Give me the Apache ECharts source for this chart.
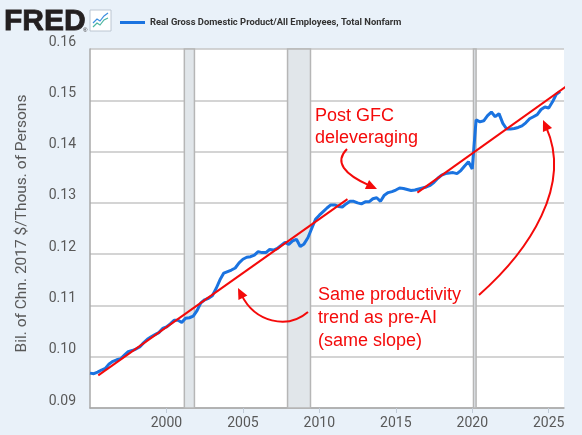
<!DOCTYPE html>
<html>
<head>
<meta charset="utf-8">
<script src="https://cdn.jsdelivr.net/npm/echarts@6/dist/echarts.min.js"></script>
<style>
  html, body { margin: 0; padding: 0; background: #e9f1f9; }
  #chart { width: 582px; height: 435px; }
</style>
</head>
<body>
<div id="chart"></div>
<script>
// quarterly observations, first one is 1995 Q1
var startYear = 1995;
var gdpPerWorker = [
  0.0968, 0.0967, 0.0970, 0.0974, 0.0977, 0.0986, 0.0991, 0.0994,
  0.0996, 0.1003, 0.1010, 0.1012, 0.1015, 0.1019, 0.1027, 0.1034,
  0.1039, 0.1043, 0.1047, 0.1055, 0.1058, 0.1064, 0.1071, 0.1071,
  0.1067, 0.1075, 0.1076, 0.1079, 0.1090, 0.1105, 0.1111, 0.1114,
  0.1119, 0.1133, 0.1150, 0.1163, 0.1166, 0.1169, 0.1173, 0.1183,
  0.1190, 0.1194, 0.1195, 0.1198, 0.1205, 0.1203, 0.1203, 0.1209,
  0.1208, 0.1211, 0.1217, 0.1223, 0.1219, 0.1226, 0.1229, 0.1215,
  0.1220, 0.1232, 0.1250, 0.1268, 0.1276, 0.1283, 0.1290, 0.1296,
  0.1296, 0.1293, 0.1292, 0.1298, 0.1303, 0.1303, 0.1300, 0.1298,
  0.1302, 0.1302, 0.1308, 0.1310, 0.1303, 0.1315, 0.1320, 0.1322,
  0.1325, 0.1329, 0.1328, 0.1326, 0.1324, 0.1325, 0.1327, 0.1329,
  0.1331, 0.1334, 0.1340, 0.1348, 0.1354, 0.1357, 0.1358, 0.1359,
  0.1357, 0.1363, 0.1372, 0.1380, 0.1366, 0.1462, 0.1458, 0.1460,
  0.1470, 0.1477, 0.1468, 0.1474, 0.1455, 0.1444, 0.1444, 0.1445,
  0.1447, 0.1450, 0.1456, 0.1464, 0.1468, 0.1472, 0.1482, 0.1487,
  0.1485, 0.1497, 0.1512, 0.1517
];

// hand drawn trend lines [year, value]
var trendPreGfc = [[1995.54, 0.09635], [2011.84, 0.13074]];
var trendPostGfc = [[2016.41, 0.1320], [2027.5, 0.15561]];

// NBER recessions [start, end] in years
var recessions = [[2001.17, 2001.83], [2007.92, 2009.42], [2020.08, 2020.25]];

var yTicks = { min: 0.09, max: 0.16 };
var xTicks = { min: 1995, max: 2026, step: 5 };

var seriesName = 'Real Gross Domestic Product/All Employees, Total Nonfarm';
var red = '#f40a0a';

var blueData = gdpPerWorker.map(function(v, i) {
  return [startYear + i / 4, v];
});

var chart = echarts.init(document.getElementById('chart'));

// arrow = bezier + head
function arrow(p0, c1, c2, p1) {
  var dx = p1[0] - c2[0], dy = p1[1] - c2[1];
  var len = Math.sqrt(dx * dx + dy * dy);
  var ux = dx / len, uy = dy / len;
  var hl = 11, hw = 5;
  var bx = p1[0] - ux * hl, by = p1[1] - uy * hl;
  return [{
    type: 'bezierCurve',
    shape: { x1: p0[0], y1: p0[1], cpx1: c1[0], cpy1: c1[1], cpx2: c2[0], cpy2: c2[1], x2: bx + ux * 3, y2: by + uy * 3 },
    style: { stroke: red, lineWidth: 2, fill: null },
    z: 100
  }, {
    type: 'polygon',
    shape: { points: [p1, [bx - uy * hw, by + ux * hw], [bx + uy * hw, by - ux * hw]] },
    style: { fill: red },
    z: 100
  }];
}

function label(x, y, txt) {
  return {
    type: 'text', z: 100,
    style: { x: x, y: y, text: txt, font: '18px "Liberation Sans"', fill: red, verticalAlign: 'middle' }
  };
}

var graphics = [
  {
    type: 'text',
    style: { x: 4, y: 22, text: 'FRED', font: 'bold 30px "Liberation Sans"', fill: '#231f20',
      stroke: '#231f20', lineWidth: 0.8, verticalAlign: 'middle' }
  },
  {
    type: 'text',
    style: { x: 83, y: 30, text: '®', font: '6px "Liberation Sans"', fill: '#231f20', verticalAlign: 'middle' }
  },
  {
    type: 'group', x: 90, y: 10,
    children: [
      { type: 'rect', shape: { x: 0, y: 0, width: 21, height: 21 }, style: { fill: '#fff', stroke: '#bcc6d2', lineWidth: 1 } },
      { type: 'polyline', shape: { points: [[3, 13], [7, 9], [10, 11], [14, 6], [18, 3]] }, style: { stroke: '#3d8fe0', lineWidth: 1.2, fill: null } },
      { type: 'polyline', shape: { points: [[3, 17], [7, 13], [10, 15], [14, 10], [18, 8]] }, style: { stroke: '#4db6a0', lineWidth: 1.2, fill: null } }
    ]
  },
  label(315, 116, 'Post GFC'),
  label(315, 138, 'deleveraging'),
  label(318, 295, 'Same productivity'),
  label(318, 318, 'trend as pre-AI'),
  label(318, 341, '(same slope)')
].concat(
  arrow([347, 149], [334, 162], [344, 174], [377, 189]),
  arrow([308, 312], [287, 330], [255, 322], [238, 288]),
  arrow([479, 295], [530, 250], [572, 185], [543, 120])
);

var option = {
  backgroundColor: '#e9f1f9',
  animation: false,
  textStyle: { fontFamily: 'Roboto' },
  legend: {
    data: [seriesName],
    left: 115, top: 13,
    icon: 'rect', itemWidth: 25, itemHeight: 3, itemGap: 5,
    textStyle: { fontFamily: 'Roboto', fontWeight: 'bold', fontSize: 9.4, color: '#333', padding: [0, 0, 4, 0] }
  },
  grid: { left: 90, right: 18, top: 49, bottom: 27, backgroundColor: '#fff', show: true, borderWidth: 0 },
  xAxis: {
    type: 'value',
    min: xTicks.min, max: xTicks.max, interval: xTicks.step,
    axisLine: { lineStyle: { color: '#a8a8a8', width: 1.5 } },
    axisTick: { length: 5, lineStyle: { color: '#c2ccd8' } },
    splitLine: { show: false },
    axisLabel: {
      showMinLabel: false, showMaxLabel: false,
      margin: 8, fontSize: 14, color: '#595959',
      formatter: function(v) { return String(Math.round(v)); }
    }
  },
  yAxis: {
    type: 'value',
    min: yTicks.min, max: yTicks.max, splitNumber: 7,
    name: 'Bil. of Chn. 2017 $/Thous. of Persons',
    nameLocation: 'middle', nameGap: 60,
    nameTextStyle: { fontSize: 15.5, color: '#595959', padding: [0, 0, 0, 10] },
    axisLine: { show: true, lineStyle: { color: '#a8a8a8', width: 1.5 } },
    axisTick: { show: false },
    splitLine: { lineStyle: { color: '#c6c6c6', width: 1.5 } },
    axisLabel: {
      margin: 14, fontSize: 14, color: '#595959',
      verticalAlign: 'bottom', lineHeight: 14,
      formatter: function(v) { return v.toFixed(2); }
    }
  },
  series: [
    {
      name: 'recessions',
      type: 'line',
      data: [],
      z: 1,
      markArea: {
        silent: true,
        itemStyle: { color: '#e1e6ea', borderColor: '#b6b6b6', borderWidth: 1.5 },
        data: recessions.map(function(r) { return [{ xAxis: r[0] }, { xAxis: r[1] }]; })
      }
    },
    {
      name: seriesName,
      type: 'line',
      data: blueData,
      showSymbol: false,
      z: 3,
      color: '#1a73e0',
      lineStyle: { width: 3, color: '#1a73e0' }
    },
    {
      name: 'trend1', type: 'line', data: trendPreGfc, showSymbol: false, z: 4,
      lineStyle: { width: 2, color: red }, clip: false
    },
    {
      name: 'trend2', type: 'line', data: trendPostGfc, showSymbol: false, z: 4,
      lineStyle: { width: 2, color: red }, clip: false
    }
  ],
  graphic: graphics
};

chart.setOption(option);
</script>
</body>
</html>
